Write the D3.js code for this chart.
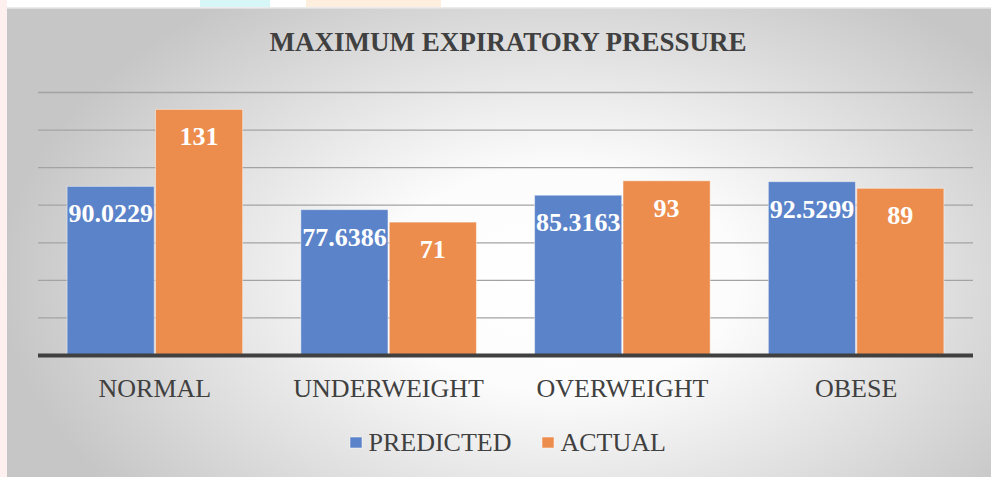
<!DOCTYPE html>
<html>
<head>
<meta charset="utf-8">
<script src="https://cdn.jsdelivr.net/npm/d3@7/dist/d3.min.js"></script>
<style>
html,body{margin:0;padding:0;background:#fff;overflow:hidden;}
svg{display:block;}
</style>
</head>
<body>
<svg id="chart" width="991" height="477"></svg>
<script>
const title = "MAXIMUM EXPIRATORY PRESSURE";
const categories = ["NORMAL", "UNDERWEIGHT", "OVERWEIGHT", "OBESE"];
const seriesNames = ["PREDICTED", "ACTUAL"];
const predicted = [90.0229, 77.6386, 85.3163, 92.5299];
const actual = [131, 71, 93, 89];
const predictedLabels = ["90.0229", "77.6386", "85.3163", "92.5299"];
const actualLabels = ["131", "71", "93", "89"];
const gridTicks = [20, 40, 60, 80, 100, 120, 140];
const colors = ["#5b83c9", "#ec8d4d"];

const svg = d3.select("#chart");
const W = 991, H = 477;
const serif = '"Liberation Serif"';

// page decorations outside the chart box
svg.append("rect").attr("x",0).attr("y",0).attr("width",7).attr("height",H).attr("fill","#fdf0ee");
svg.append("rect").attr("x",200).attr("y",0).attr("width",70).attr("height",7).attr("fill","#d6f6f8");
svg.append("rect").attr("x",306).attr("y",0).attr("width",135).attr("height",7).attr("fill","#fdeedd");

// chart background
const defs = svg.append("defs");
const rg = defs.append("radialGradient").attr("id","bg")
  .attr("gradientUnits","userSpaceOnUse")
  .attr("cx",560).attr("cy",280).attr("r",560)
  .attr("gradientTransform","matrix(1,0,0,0.62,0,106)");
rg.append("stop").attr("offset","0%").attr("stop-color","#ffffff");
rg.append("stop").attr("offset","32%").attr("stop-color","#fcfcfc");
rg.append("stop").attr("offset","100%").attr("stop-color","#c6c6c6");
svg.append("rect").attr("x",7).attr("y",8).attr("width",W-7).attr("height",H-8).attr("fill","url(#bg)");
svg.append("line").attr("x1",7).attr("x2",W).attr("y1",8).attr("y2",8).attr("stroke","#e6e6e6").attr("stroke-width",1.5);

// scales
const x0 = d3.scaleBand().domain(categories).range([38, 973]).paddingInner(0.249).paddingOuter(0.1245);
const x1 = d3.scaleBand().domain(seriesNames).range([0, x0.bandwidth()]).paddingInner(0.015);
const y = d3.scaleLinear().domain([0, 140]).range([355.5, 92.5]);

// gridlines
svg.append("g").selectAll("line").data(gridTicks).join("line")
  .attr("x1", 38).attr("x2", 973)
  .attr("y1", d => y(d)).attr("y2", d => y(d))
  .attr("stroke", "#a3a3a3").attr("stroke-width", 1.3);

// bars
const rows = categories.map((c, i) => ({
  cat: c,
  vals: [
    {s: seriesNames[0], v: predicted[i], lab: predictedLabels[i], col: colors[0]},
    {s: seriesNames[1], v: actual[i], lab: actualLabels[i], col: colors[1]}
  ]
}));
const g = svg.append("g").selectAll("g").data(rows).join("g")
  .attr("transform", d => `translate(${x0(d.cat)},0)`);
g.selectAll("rect").data(d => d.vals).join("rect")
  .attr("x", d => x1(d.s)).attr("width", x1.bandwidth())
  .attr("y", d => y(d.v)).attr("height", d => y(0) - y(d.v))
  .attr("fill", d => d.col)
  .attr("stroke", "rgba(255,255,255,0.45)").attr("stroke-width", 1);
g.selectAll("text").data(d => d.vals).join("text")
  .attr("x", d => x1(d.s) + x1.bandwidth()/2)
  .attr("y", d => y(d.v) + 36)
  .attr("text-anchor", "middle")
  .style("font-family", serif).style("font-weight", "bold").style("font-size", "26px")
  .attr("fill", "#ffffff")
  .text(d => d.lab);

// baseline axis
svg.append("line").attr("x1", 38).attr("x2", 973).attr("y1", y(0)).attr("y2", y(0))
  .attr("stroke", "#404040").attr("stroke-width", 4);

// category labels
const xAxis = d3.axisBottom(x0).tickSize(0).tickPadding(0);
const ax = svg.append("g").attr("transform", `translate(0,${y(0)})`).call(xAxis);
ax.attr("font-family", null).attr("font-size", null);
ax.select(".domain").remove();
ax.selectAll("text")
  .attr("y", 41.5).attr("dy", 0)
  .style("font-family", serif).style("font-size", "26px").attr("fill", "#404040");

// title
svg.append("text").attr("x", 508).attr("y", 51).attr("text-anchor", "middle")
  .style("font-family", serif).style("font-weight", "bold").style("font-size", "27px")
  .attr("fill", "#404040").text(title);

// legend
const leg = svg.append("g");
let lx = 350;
seriesNames.forEach((n, i) => {
  leg.append("rect").attr("x", lx).attr("y", 437).attr("width", 12).attr("height", 11)
    .attr("fill", colors[i]).attr("stroke", "rgba(255,255,255,0.5)").attr("stroke-width", 1);
  const t = leg.append("text").attr("x", lx + 18.5).attr("y", 451)
    .style("font-family", serif).style("font-size", "26px").attr("fill", "#404040").text(n);
  lx = lx + 18.5 + t.node().getComputedTextLength() + 30.5;
});
</script>
</body>
</html>
